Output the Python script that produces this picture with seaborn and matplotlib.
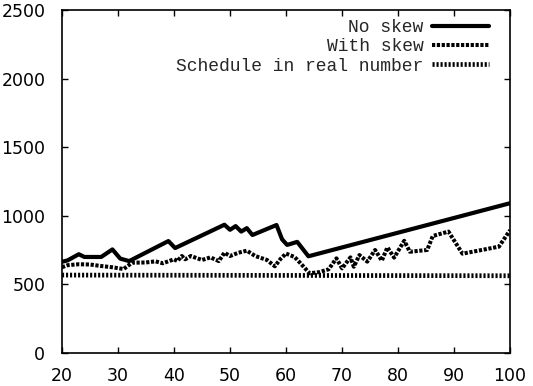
import matplotlib
matplotlib.use("Agg")
import matplotlib.pyplot as plt
import seaborn as sns

# Series values (x = number of items, y = schedule length)
no_skew_x = [20, 21, 23, 24, 27, 29, 30.4, 32, 39, 40.2, 49, 50, 51, 52, 53, 54,
             58.3, 59.3, 60.2, 62, 64, 100]
no_skew_y = [665, 675, 720, 700, 700, 755, 688, 670, 816, 765, 935, 898, 925, 885,
             910, 860, 933, 828, 788, 810, 705, 1092]

with_skew_x = [20, 21, 23, 25, 27, 29, 31, 32.5, 35, 36.7, 38, 40, 40.6, 41.4, 42,
               43, 45, 46.5, 48, 49, 50, 51.5, 53, 54.5, 56.6, 58, 59, 60, 61.5, 62,
               64.2, 66, 67.6, 69, 70, 71.5, 72.1, 73.1, 74.5, 75.9, 77.1, 78.1, 79.3,
               81.1, 82.1, 85.2, 86.2, 89, 91.5, 98, 100]
with_skew_y = [625, 640, 647, 645, 634, 625, 612, 658, 660, 668, 654, 683, 670, 707,
               683, 707, 678, 697, 670, 731, 707, 731, 746, 707, 678, 632, 685, 725,
               700, 680, 581, 590, 610, 690, 617, 697, 629, 714, 666, 751, 673, 770,
               695, 818, 738, 751, 853, 885, 724, 775, 895]

real_x = [20, 100]
real_y = [568, 563]

x_ticks = [20, 30, 40, 50, 60, 70, 80, 90, 100]
y_ticks = [0, 500, 1000, 1500, 2000, 2500]

labels = ["No skew", "With skew", "Schedule in real number"]

sns.set_style("ticks")
plt.rcParams["font.family"] = ["DejaVu Sans"]

fig = plt.figure(figsize=(5.33, 3.86), dpi=100)
ax = fig.add_axes([0.1163, 0.0855, 0.8407, 0.8885])

sns.lineplot(x=no_skew_x, y=no_skew_y, ax=ax, color="black", linewidth=3.0,
             label=labels[0], sort=False)
sns.lineplot(x=with_skew_x, y=with_skew_y, ax=ax, color="black", linewidth=2.9,
             label=labels[1], sort=False, dashes=False)
sns.lineplot(x=real_x, y=real_y, ax=ax, color="black", linewidth=3.4,
             label=labels[2], sort=False, dashes=False)

lines = ax.get_lines()
lines[1].set_dashes((0.8, 0.4))
lines[2].set_dashes((0.45, 0.4))

ax.set_xlim(20, 100)
ax.set_ylim(0, 2500)
ax.set_xticks(x_ticks)
ax.set_yticks(y_ticks)
ax.set_xticklabels([str(v) for v in x_ticks])
ax.set_yticklabels([str(v) for v in y_ticks])
ax.set_xlabel("")
ax.set_ylabel("")

for side in ["left", "right", "top", "bottom"]:
    ax.spines[side].set_visible(True)
    ax.spines[side].set_color("black")
    ax.spines[side].set_linewidth(1.2)

ax.tick_params(axis="both", which="major", direction="in", length=4.5, width=1.0,
               top=True, right=True, labelsize=12.5, colors="black")
ax.tick_params(axis="x", pad=10)
ax.tick_params(axis="y", pad=12)

leg = ax.legend(loc="upper right", bbox_to_anchor=(0.982, 1.01), frameon=False,
                markerfirst=False, handlelength=3.2, handletextpad=0.45,
                labelspacing=0.12, borderaxespad=0.3,
                prop={"family": "Liberation Mono", "size": 13})

fig.savefig("out.png", dpi=100)
